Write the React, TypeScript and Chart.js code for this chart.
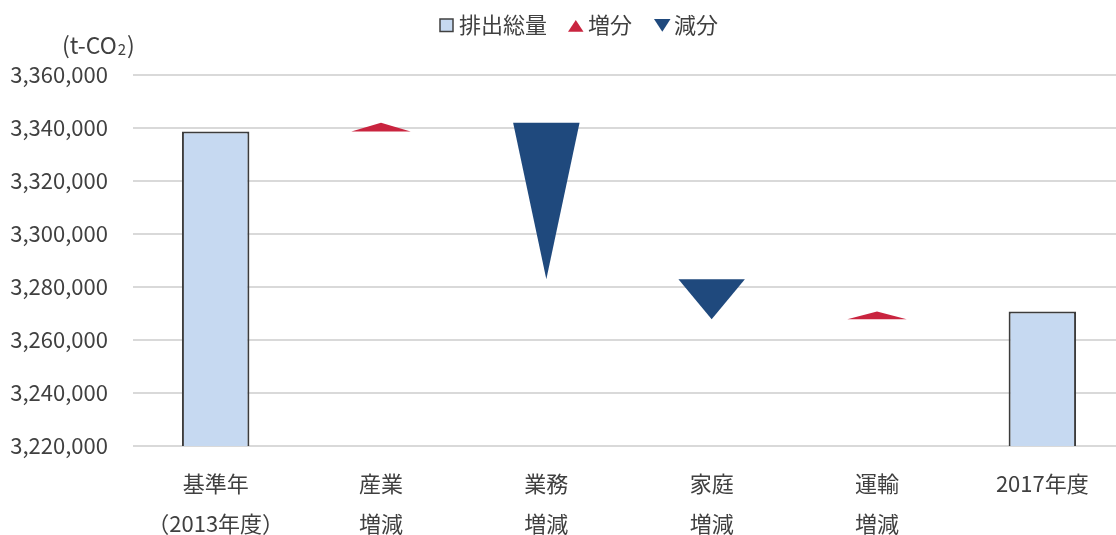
import React, { useEffect, useRef } from 'react';
import { Chart, registerables } from 'chart.js';

Chart.register(...registerables);

// ---- data ----
const categories: (string | string[])[] = [
  ['基準年', '（2013年度）'],
  ['産業', '増減'],
  ['業務', '増減'],
  ['家庭', '増減'],
  ['運輸', '増減'],
  '2017年度',
];
const totalValues: (number | null)[] = [3338700, null, null, null, null, 3270800];
const stepStart: (number | null)[] = [null, 3338700, 3342000, 3282900, 3267800, null];
const stepEnd: (number | null)[] = [null, 3342000, 3282900, 3267800, 3270800, null];
const yMin = 3220000;
const yMax = 3360000;
const yStep = 20000;
const legendLabels = ['排出総量', '増分', '減分'];
const unitLabel = ['(t-CO', '2', ')'];

// ---- styles ----
const FONT = '"Noto Sans CJK JP", "Noto Sans", sans-serif';
const TEXT = '#404040';
const BAR_FILL = '#C6D9F1';
const BAR_BORDER = '#3c3c3c';
const RED = '#C9243F';
const BLUE = '#1F497D';
const GRID = '#d9d9d9';

const increaseData = categories.map((_, i) => {
  const s = stepStart[i];
  const e = stepEnd[i];
  return s != null && e != null && e > s ? [s, e] : null;
});
const decreaseData = categories.map((_, i) => {
  const s = stepStart[i];
  const e = stepEnd[i];
  return s != null && e != null && e < s ? [e, s] : null;
});

const trianglePlugin = {
  id: 'triangles',
  afterDatasetsDraw(chart: any) {
    const ctx = chart.ctx;
    chart.data.datasets.forEach((ds: any, di: number) => {
      if (!ds.triangle) return;
      const meta = chart.getDatasetMeta(di);
      meta.data.forEach((el: any, i: number) => {
        if (ds.data[i] == null) return;
        const { x, y, base, width } = el.getProps(['x', 'y', 'base', 'width'], true);
        const top = Math.min(y, base);
        const bottom = Math.max(y, base);
        const half = (width * ds.triangleScale) / 2;
        ctx.save();
        ctx.fillStyle = ds.triangleColor;
        ctx.beginPath();
        if (ds.triangle === 'up') {
          ctx.moveTo(x - half, bottom);
          ctx.lineTo(x + half, bottom);
          ctx.lineTo(x, top);
        } else {
          ctx.moveTo(x - half, top);
          ctx.lineTo(x + half, top);
          ctx.lineTo(x, bottom);
        }
        ctx.closePath();
        ctx.fill();
        ctx.restore();
      });
    });
  },
};

const decorPlugin = {
  id: 'decor',
  afterDraw(chart: any) {
    const ctx = chart.ctx;
    ctx.save();
    ctx.textBaseline = 'middle';
    ctx.textAlign = 'left';
    ctx.fillStyle = TEXT;
    ctx.font = `22px ${FONT}`;
    // legend
    const ly = 25;
    ctx.fillStyle = BAR_FILL;
    ctx.strokeStyle = '#404040';
    ctx.lineWidth = 1.5;
    ctx.fillRect(440, 19, 13, 12.5);
    ctx.strokeRect(440, 19, 13, 12.5);
    ctx.fillStyle = TEXT;
    ctx.fillText(legendLabels[0], 459, ly);

    ctx.fillStyle = RED;
    ctx.beginPath();
    ctx.moveTo(568, 31.7);
    ctx.lineTo(583.5, 31.7);
    ctx.lineTo(575.8, 20);
    ctx.closePath();
    ctx.fill();
    ctx.fillStyle = TEXT;
    ctx.fillText(legendLabels[1], 588, ly);

    ctx.fillStyle = BLUE;
    ctx.beginPath();
    ctx.moveTo(654, 19);
    ctx.lineTo(670.5, 19);
    ctx.lineTo(662.3, 31.7);
    ctx.closePath();
    ctx.fill();
    ctx.fillStyle = TEXT;
    ctx.fillText(legendLabels[2], 674, ly);

    // unit label
    let x = 62;
    const uy = 45;
    ctx.font = `23px ${FONT}`;
    ctx.fillText(unitLabel[0], x, uy);
    x += ctx.measureText(unitLabel[0]).width + 1;
    ctx.font = `15px ${FONT}`;
    ctx.fillText(unitLabel[1], x, uy + 4);
    x += ctx.measureText(unitLabel[1]).width + 1;
    ctx.font = `23px ${FONT}`;
    ctx.fillText(unitLabel[2], x, uy);
    ctx.restore();
  },
};

export default function App() {
  const ref = useRef<HTMLCanvasElement>(null);
  useEffect(() => {
    if (!ref.current) return;
    const chart = new Chart(ref.current, {
      type: 'bar',
      data: {
        labels: categories as any,
        datasets: [
          {
            label: legendLabels[0],
            data: totalValues as any,
            backgroundColor: BAR_FILL,
            borderColor: BAR_BORDER,
            borderWidth: 2,
            grouped: false,
            barPercentage: 0.408,
            categoryPercentage: 1,
          } as any,
          {
            label: legendLabels[1],
            data: increaseData as any,
            backgroundColor: 'rgba(0,0,0,0)',
            borderWidth: 0,
            grouped: false,
            barPercentage: 0.408,
            categoryPercentage: 1,
            triangle: 'up',
            triangleColor: RED,
            triangleScale: 0.88,
          } as any,
          {
            label: legendLabels[2],
            data: decreaseData as any,
            backgroundColor: 'rgba(0,0,0,0)',
            borderWidth: 0,
            grouped: false,
            barPercentage: 0.408,
            categoryPercentage: 1,
            triangle: 'down',
            triangleColor: BLUE,
            triangleScale: 0.985,
          } as any,
        ],
      },
      options: {
        responsive: false,
        animation: false,
        layout: { padding: { top: 75, left: 0, right: 0, bottom: 0 } },
        plugins: {
          legend: { display: false },
          tooltip: { enabled: false },
        },
        scales: {
          x: {
            grid: { display: false, drawTicks: false },
            border: { display: false },
            ticks: {
              color: TEXT,
              padding: 18,
              maxRotation: 0,
              autoSkip: false,
              font: { family: FONT, size: 22, lineHeight: 40 / 22 },
            },
            afterFit: (scale: any) => {
              scale.height = 89;
            },
          },
          y: {
            min: yMin,
            max: yMax,
            grid: { color: GRID, lineWidth: 2, drawTicks: false },
            border: { display: false },
            ticks: {
              stepSize: yStep,
              padding: 25,
              color: TEXT,
              font: { family: FONT, size: 22 },
              callback: (v: any) => Number(v).toLocaleString('en-US'),
            },
            afterFit: (scale: any) => {
              scale.width = 133;
            },
          },
        },
      },
      plugins: [trianglePlugin, decorPlugin],
    });
    return () => chart.destroy();
  }, []);

  return (
    <div style={{ position: 'absolute', left: 0, top: 0, width: 1116, height: 535, overflow: 'hidden', background: '#fff' }}>
      <canvas ref={ref} width={1125} height={535} style={{ display: 'block', width: 1125, height: 535 }} />
    </div>
  );
}
